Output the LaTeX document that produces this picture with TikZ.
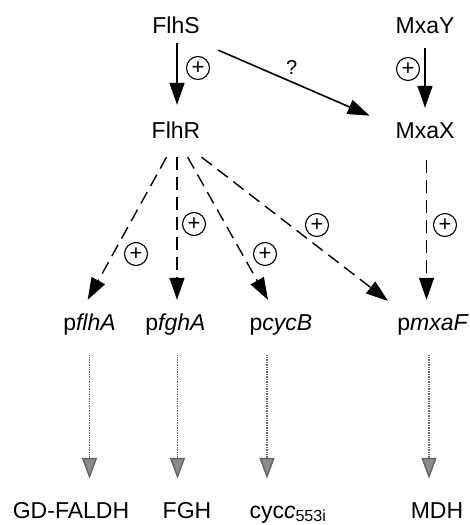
\documentclass[tikz,border=0pt]{standalone}
\usepackage{fontspec}
\setmainfont{Liberation Sans}
\usetikzlibrary{arrows.meta}
\tikzset{
  gene/.style={anchor=base, inner sep=0pt, text height=17pt, text depth=0pt, font=\fontsize{23}{27}\selectfont},
  plus/.style={circle, draw, line width=1.1pt, minimum size=23pt, inner sep=0pt, font=\fontsize{22}{22}\selectfont},
  act/.style={line width=1.6pt, -{Triangle[length=22pt,width=15pt]}},
  dashact/.style={act, line width=1.4pt, dash pattern=on 13pt off 7pt},
  expr/.style={draw=black!60, line width=1.5pt, dash pattern=on 1pt off 0.7pt, -{Triangle[length=21pt,width=15pt,fill=black!45]}}
}
\begin{document}
\begin{tikzpicture}[x=1pt,y=-1pt]
    \useasboundingbox (0,0) rectangle (470,525);

    \node[gene] (FlhS) at (176,33) {FlhS};
    \node[gene] (MxaY) at (425,33) {MxaY};
    \node[gene] (FlhR) at (176,138) {FlhR};
    \node[gene] (MxaX) at (425,138) {MxaX};

    \node[gene] (pflhA) at (89.5,330) {p\textit{flhA}};
    \node[gene] (pfghA) at (175.5,330) {p\textit{fghA}};
    \node[gene] (pcycB) at (281,330) {p\textit{cycB}};
    \node[gene] (pmxaF) at (433,330) {p\textit{mxaF}};

    \node[gene] (GDFALDH) at (71,518) {GD-FALDH};
    \node[gene] (FGH) at (187,518) {FGH};
    \node[gene] (cycc) at (288,518) {cyc\textit{c}\textsubscript{553i}};
    \node[gene] (MDH) at (437,518) {MDH};

    \draw [act, shorten <=10pt, shorten >=16pt]([xshift=1pt]FlhS.south) -- ([xshift=1pt]FlhR.north);
    \draw [act, shorten <=20pt, shorten >=28pt]([yshift=-9pt]FlhS.south east) -- ([yshift=-6pt]MxaX.north west)
        node[pos=0.47, above=7pt, inner sep=0pt, font=\fontsize{20}{24}\selectfont]{?};
    \draw [act, shorten <=15pt, shorten >=13pt](MxaY.south) -- (MxaX.north);

    \draw [dashact, shorten <=21.7pt, shorten >=14.8pt]([xshift=1pt]FlhR.south) -- ([xshift=-9pt]pflhA.north);
    \draw [dashact, shorten <=19pt, shorten >=13pt]([xshift=1pt]FlhR.south) -- ([xshift=1.5pt]pfghA.north);
    \draw [dashact, shorten <=21.8pt, shorten >=14.9pt]([xshift=1pt]FlhR.south) -- ([xshift=-5.7pt]pcycB.north);
    \draw [dashact, shorten <=31pt, shorten >=19.6pt]([xshift=1pt]FlhR.south) -- ([xshift=-29.5pt]pmxaF.north);
    \draw [dashact, shorten <=22pt, shorten >=13pt]([xshift=1.5pt]MxaX.south) -- ([xshift=-6.5pt]pmxaF.north);

    \draw [expr, shorten <=25pt, shorten >=22pt](pflhA.south) -- ([xshift=18.5pt]GDFALDH.north);
    \draw [expr, shorten <=25pt, shorten >=22pt]([xshift=2pt]pfghA.south) -- ([xshift=-9.5pt]FGH.north);
    \draw [expr, shorten <=25pt, shorten >=22pt]([xshift=-14pt]pcycB.south) -- ([xshift=-21pt]cycc.north);
    \draw [expr, shorten <=25pt, shorten >=22pt]([xshift=-4pt]pmxaF.south) -- ([xshift=-8pt]MDH.north);

    \node[plus] (plusS) at (198,68) {+};
    \node[plus] (plusY) at (408,69) {+};
    \node[plus] (plusA) at (136,254) {+};
    \node[plus] (plusG) at (194,224) {+};
    \node[plus] (plusC) at (265,254) {+};
    \node[plus] (plusM) at (317,225) {+};
    \node[plus] (plusX) at (445,225) {+};
\end{tikzpicture}
\end{document}
